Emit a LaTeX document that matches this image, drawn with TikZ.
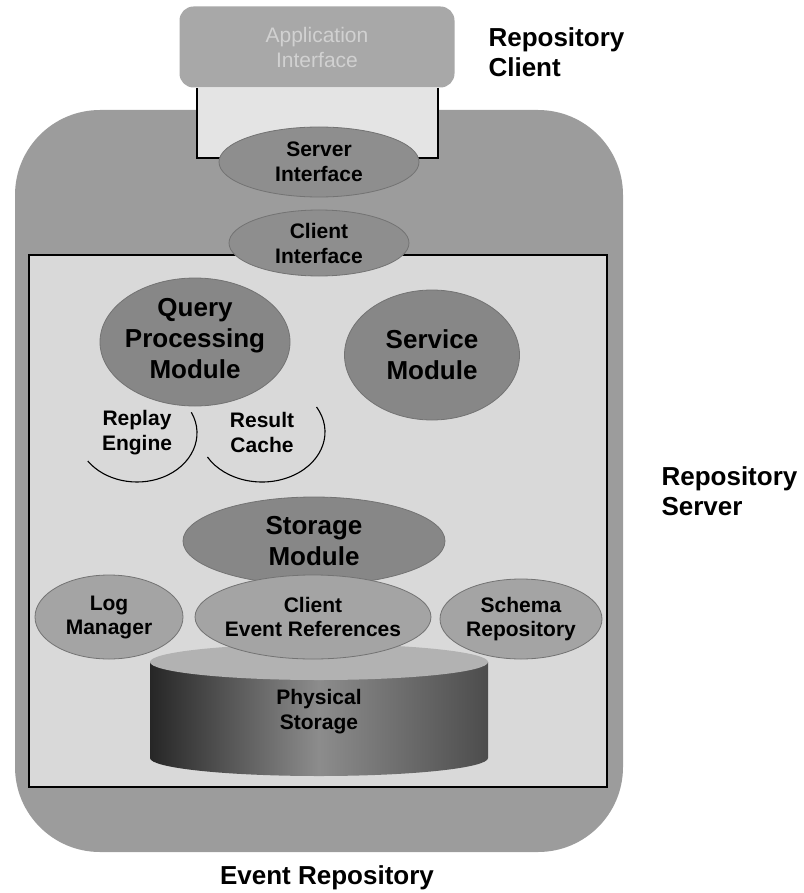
\documentclass[tikz,border=0pt]{standalone}
\usepackage{fontspec}
\setmainfont{Liberation Sans}
\usetikzlibrary{shapes.geometric}
\definecolor{outergray}{HTML}{9C9C9C}
\definecolor{servergray}{HTML}{D9D9D9}
\definecolor{bracketgray}{HTML}{E4E4E4}
\definecolor{modgray}{HTML}{878787}
\definecolor{ifgray}{HTML}{8E8E8E}
\definecolor{lowgray}{HTML}{A4A4A4}
\definecolor{appgray}{HTML}{A8A8A8}
\begin{document}
\begin{tikzpicture}[x=1pt, y=-1pt,
    big/.style={font=\fontsize{26}{31}\selectfont\bfseries, align=center},
    mid/.style={font=\fontsize{21}{25}\selectfont\bfseries, align=center},
    small/.style={font=\fontsize{21}{24}\selectfont\bfseries, align=center},
    blob/.style={ellipse, inner sep=0pt, draw=black!55, line width=0.8pt},
    outlabel/.style={font=\fontsize{26}{30}\selectfont\bfseries, align=left, anchor=west}]
    \useasboundingbox (0,0) rectangle (803,893);
    % event repository and server area
    \fill[outergray, rounded corners=85pt] (15,110) rectangle (623,852);
    \fill[bracketgray] (197,88) rectangle (438,158);
    \draw[line width=2pt] (197,88) -- (197,158) -- (230,158);
    \draw[line width=2pt] (438,88) -- (438,158) -- (410,158);
    \node [fill=appgray, rounded corners=14pt, minimum width=275pt, minimum height=81pt,
           font=\fontsize{21}{25}\selectfont, align=center, text=white!82!black] (app) at (317,47) {Application\\Interface};
    \draw[fill=servergray, line width=2.2pt] (29,255) rectangle (607,787);
    \node [blob, fill=ifgray, minimum width=200pt, minimum height=70pt] (srvif) at (319,162) {};
    \node [mid] at (srvif) {Server\\Interface};
    \node [blob, fill=ifgray, minimum width=180pt, minimum height=66pt] (cliif) at (319,243) {};
    \node [mid] at (cliif) {Client\\Interface};
    % query side
    \node [mid] (replay) at (137,433) {Replay\\Engine};
    \node [mid] (cache) at (262,432) {Result\\Cache};
    \draw[line width=1.1pt] (replay.center) ++(-25:60 and 49) arc[start angle=-25, end angle=145, x radius=60, y radius=49];
    \draw[line width=1.1pt] (cache.center) ++(-30:63 and 50) arc[start angle=-30, end angle=150, x radius=63, y radius=50];
    \node [blob, fill=modgray, minimum width=190pt, minimum height=128pt] (query) at (195,342) {};
    \node [big] at (195,339) {Query\\Processing\\Module};
    \node [blob, fill=modgray, minimum width=175pt, minimum height=130pt] (service) at (432,355) {};
    \node [big] at (service) {Service\\Module};
    \node [blob, fill=modgray, minimum width=262pt, minimum height=88pt] (storage) at (314,541) {};
    \node [big] at (storage) {Storage\\Module};
    % physical storage
    \coordinate (cyl) at (319,662);
    \shade[left color=black!85, right color=black!70, middle color=black!45]
        (150,662) -- (150,758) arc[start angle=180, end angle=0, x radius=169, y radius=18] -- (488,662) -- cycle;
    \fill[lowgray!85] (cyl) ellipse[x radius=169, y radius=18];
    \node [mid] (phys) at (319,712) {Physical\\Storage};
    \node [blob, fill=lowgray, minimum width=148pt, minimum height=84pt] (log) at (109,617) {};
    \node [small] at (log) {Log\\Manager};
    \node [blob, fill=lowgray, minimum width=236pt, minimum height=84pt] (cer) at (313,617) {};
    \node [small] at (cer) {Client\\Event References};
    \node [blob, fill=lowgray, minimum width=162pt, minimum height=80pt] (schema) at (521,619) {};
    \node [small] at (schema) {Schema\\Repository};
    % outside labels
    \node [outlabel] (rclient) at (485,52) {Repository\\Client};
    \node [outlabel] (rserver) at (658,491) {Repository\\Server};
    \node [font=\fontsize{26}{30}\selectfont\bfseries] (erepo) at (327,878) {Event Repository};
\end{tikzpicture}
\end{document}
